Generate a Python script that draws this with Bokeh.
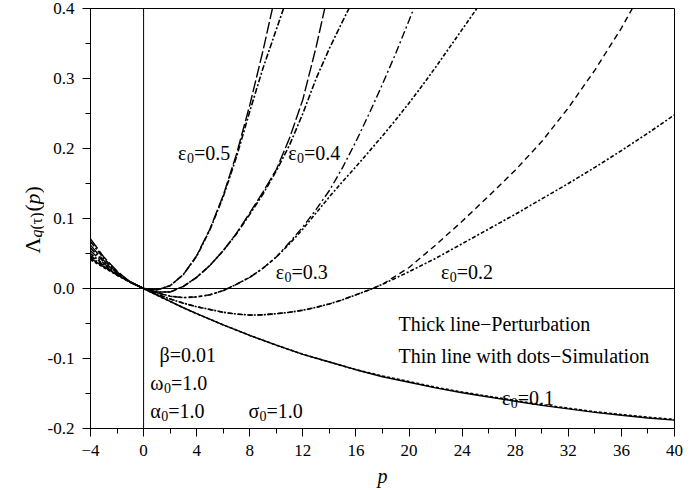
import math

from bokeh.plotting import figure
from bokeh.layouts import row
from bokeh.models import FixedTicker, Span, Label, NumeralTickFormatter
from bokeh.embed import file_html
from bokeh.resources import INLINE

# ---------------- axis ticks ----------------
x_ticks = [-4, 0, 4, 8, 12, 16, 20, 24, 28, 32, 36, 40]
x_minor_ticks = [-2, 2, 6, 10, 14, 18, 22, 26, 30, 34, 38]
y_ticks = [-0.2, -0.1, 0.0, 0.1, 0.2, 0.3, 0.4]
y_tick_labels = ["-0.2", "-0.1", "0.0", "0.1", "0.2", "0.3", "0.4"]
y_minor_ticks = [-0.15, -0.05, 0.05, 0.15, 0.25, 0.35]

# ---------------- moment Lyapunov exponent curves ----------------
# eps0 = 0.5
p_05 = [-4, -3, -2, -1, 0, 1, 2, 3, 4, 5, 6, 7, 8, 9, 10, 11]
pert_05 = [0.071, 0.045, 0.025, 0.009, 0.0, -0.002, 0.004, 0.020, 0.047, 0.085,
           0.133, 0.192, 0.262, 0.340, 0.425, 0.520]
sim_05 = [0.067, 0.043, 0.024, 0.009, 0.0, -0.002, 0.004, 0.020, 0.046, 0.084,
          0.131, 0.188, 0.253, 0.315, 0.370, 0.425]

# eps0 = 0.4
p_04 = [-4, -3, -2, -1, 0, 1, 2, 3, 4, 5, 6, 7, 8, 9, 10, 11, 12, 13, 14, 15, 16]
pert_04 = [0.062, 0.040, 0.023, 0.009, 0.0, -0.005, -0.005, 0.003, 0.016, 0.033,
           0.054, 0.079, 0.108, 0.138, 0.170, 0.215, 0.270, 0.345, 0.430, 0.520, 0.620]
sim_04 = [0.058, 0.038, 0.022, 0.009, 0.0, -0.005, -0.005, 0.003, 0.016, 0.033,
          0.054, 0.078, 0.106, 0.135, 0.168, 0.205, 0.250, 0.300, 0.343, 0.382, 0.420]

# eps0 = 0.3
p_03 = [-4, -3, -2, -1, 0, 1, 2, 3, 4, 5, 6, 7, 8, 9, 10, 11, 12, 13, 14, 15, 16,
        17, 18, 19, 20, 21, 22, 23, 24, 25, 26]
pert_03 = [0.054, 0.036, 0.021, 0.009, 0.0, -0.006, -0.011, -0.013, -0.012, -0.009,
           -0.003, 0.006, 0.016, 0.029, 0.045, 0.066, 0.088, 0.113, 0.140, 0.173,
           0.210, 0.250, 0.292, 0.336, 0.383, 0.430, 0.480, 0.530, 0.580, 0.630, 0.680]
sim_03 = [0.050, 0.034, 0.020, 0.009, 0.0, -0.006, -0.011, -0.013, -0.012, -0.009,
          -0.003, 0.006, 0.016, 0.029, 0.045, 0.064, 0.085, 0.108, 0.131, 0.153,
          0.174, 0.196, 0.218, 0.241, 0.265, 0.290, 0.316, 0.343, 0.370, 0.397, 0.425]

# eps0 = 0.2
p_02 = [-4, -3, -2, -1, 0, 1, 2, 3, 4, 5, 6, 7, 8, 9, 10, 11, 12, 13, 14, 15, 16,
        17, 18, 20, 22, 24, 26, 28, 30, 32, 34, 36, 38, 40]
pert_02 = [0.047, 0.033, 0.020, 0.009, 0.0, -0.008, -0.015, -0.021, -0.026, -0.030,
           -0.034, -0.0365, -0.038, -0.0376, -0.036, -0.034, -0.031, -0.027, -0.022,
           -0.016, -0.009, -0.002, 0.006, 0.030, 0.062, 0.096, 0.132, 0.169, 0.210,
           0.258, 0.312, 0.372, 0.440, 0.510]
sim_02 = [0.045, 0.032, 0.019, 0.009, 0.0, -0.008, -0.015, -0.021, -0.026, -0.030,
          -0.034, -0.0365, -0.038, -0.0376, -0.036, -0.034, -0.031, -0.027, -0.022,
          -0.016, -0.009, -0.002, 0.006, 0.024, 0.043, 0.064, 0.085, 0.106, 0.128,
          0.150, 0.173, 0.197, 0.222, 0.248]

# eps0 = 0.1
p_01 = [-4, -3, -2, -1, 0, 1, 2, 3, 4, 6, 8, 10, 12, 14, 16, 18, 20, 22, 24, 26,
        28, 30, 32, 34, 36, 38, 40]
pert_01 = [0.043, 0.031, 0.020, 0.010, 0.0, -0.0095, -0.0185, -0.0275, -0.036, -0.052,
           -0.067, -0.081, -0.094, -0.105, -0.116, -0.126, -0.134, -0.142, -0.149,
           -0.155, -0.161, -0.167, -0.172, -0.177, -0.181, -0.185, -0.188]
sim_01 = [0.041, 0.030, 0.019, 0.009, 0.0, -0.0095, -0.0185, -0.0275, -0.036, -0.052,
          -0.067, -0.081, -0.094, -0.105, -0.116, -0.125, -0.133, -0.141, -0.148,
          -0.154, -0.160, -0.166, -0.171, -0.176, -0.180, -0.184, -0.187]

SERIF = "Liberation Serif"
H = 490          # page height in pixels
TOP, BOTTOM = 8, 62

# ---------------- main plot ----------------
p = figure(width=655, height=H, x_range=(-4, 40), y_range=(-0.2, 0.4),
           output_backend="svg", toolbar_location=None,
           min_border_left=46, min_border_right=25,
           min_border_top=TOP, min_border_bottom=BOTTOM)

p.grid.visible = False
p.background_fill_color = "white"
p.border_fill_color = "white"
p.outline_line_color = "black"
p.outline_line_width = 1
p.outline_line_alpha = 1.0

p.xaxis.ticker = FixedTicker(ticks=x_ticks, minor_ticks=x_minor_ticks)
p.yaxis.ticker = FixedTicker(ticks=y_ticks, minor_ticks=y_minor_ticks)
p.yaxis.formatter = NumeralTickFormatter(format="0.0")
p.yaxis.major_label_overrides = {t: s for t, s in zip(y_ticks, y_tick_labels)}

for ax in (p.xaxis[0], p.yaxis[0]):
    ax.axis_line_color = "black"
    ax.axis_line_width = 1
    ax.major_tick_line_color = "black"
    ax.minor_tick_line_color = "black"
    ax.major_tick_in = 0
    ax.major_tick_out = 8
    ax.minor_tick_in = 0
    ax.minor_tick_out = 5
    ax.major_label_text_font = SERIF
    ax.major_label_text_font_size = "17px"
    ax.major_label_text_color = "black"

p.xaxis.major_label_standoff = 8
p.yaxis.major_label_standoff = 8
p.xaxis.axis_label = "p"
p.xaxis.axis_label_text_font = SERIF
p.xaxis.axis_label_text_font_style = "italic"
p.xaxis.axis_label_text_font_size = "20px"
p.xaxis.axis_label_text_color = "black"
p.xaxis.axis_label_standoff = 6

# zero reference lines
p.add_layout(Span(location=0, dimension="height", line_color="black", line_width=1))
p.add_layout(Span(location=0, dimension="width", line_color="black", line_width=1))

# curves: thick = perturbation, thin with dots = simulation
curves = [
    (p_05, pert_05, sim_05, "12 3", "6 2 2 2"),
    (p_04, pert_04, sim_04, "12 3", "6 2 2 2"),
    (p_03, pert_03, sim_03, "8 3 2 3", "4 2 2 2"),
    (p_02, pert_02, sim_02, "6 4", "4 2 2 2"),
    (p_01, pert_01, sim_01, "solid", "3 2"),
]
for xs, pert, sim, dash_pert, dash_sim in curves:
    p.line(xs, pert, line_color="black", line_width=1.4, line_dash=dash_pert)
    p.line(xs, sim, line_color="black", line_width=1.6, line_dash=dash_sim)


def note(fig, x, y, text, size="20px", style="normal", angle=0.0, dx=0, dy=0):
    fig.add_layout(Label(x=x, y=y, text=text, x_offset=dx, y_offset=dy,
                         text_font=SERIF, text_font_size=size,
                         text_font_style=style, text_color="black",
                         text_align="left", text_baseline="alphabetic", angle=angle))


def sub_note(x, y, head, head_w, tail):
    """Symbol with a subscript 0, e.g. ε0=0.5 (offsets in pixels)."""
    note(p, x, y, head)
    note(p, x, y, "0", size="14px", dx=head_w, dy=-5)
    note(p, x, y, tail, dx=head_w + 7)


# curve labels
sub_note(2.6, 0.194, "ε", 8.8, "=0.5")
sub_note(10.9, 0.194, "ε", 8.8, "=0.4")
sub_note(9.95, 0.024, "ε", 8.8, "=0.3")
sub_note(22.4, 0.024, "ε", 8.8, "=0.2")
sub_note(27.0, -0.156, "ε", 8.8, "=0.1")

# legend text and parameters
note(p, 19.2, -0.051, "Thick line−Perturbation")
note(p, 19.2, -0.0965, "Thin line with dots−Simulation")
note(p, 1.2, -0.095, "β=0.01")
sub_note(0.5, -0.135, "ω", 13.7, "=1.0")
sub_note(0.5, -0.1745, "α", 10.9, "=1.0")
sub_note(7.9, -0.1745, "σ", 11.1, "=1.0")

# ---------------- rotated y-axis title Λ_{q(τ)}(p) ----------------
# narrow strip left of the main plot; its data units are page pixels,
# with y counted up from the bottom of the page
lab = figure(width=44, height=H, x_range=(0, 44), y_range=(BOTTOM, H - TOP),
             output_backend="svg", toolbar_location=None,
             x_axis_location=None, y_axis_location=None,
             min_border_left=0, min_border_right=0,
             min_border_top=TOP, min_border_bottom=BOTTOM)
lab.grid.visible = False
lab.outline_line_color = None
lab.background_fill_color = "white"
lab.border_fill_color = "white"

a = math.pi / 2
note(lab, 32, H - 253, "Λ", size="22px", angle=a)
note(lab, 36, H - 237, "q", size="16px", style="italic", angle=a)
note(lab, 36, H - 229, "(τ)", size="16px", angle=a)
note(lab, 32, H - 211, "(", size="22px", angle=a)
note(lab, 32, H - 204, "p", size="22px", style="italic", angle=a)
note(lab, 32, H - 193, ")", size="22px", angle=a)

layout = row(lab, p, spacing=0)
open("out.html", "w").write(file_html(layout, INLINE))
